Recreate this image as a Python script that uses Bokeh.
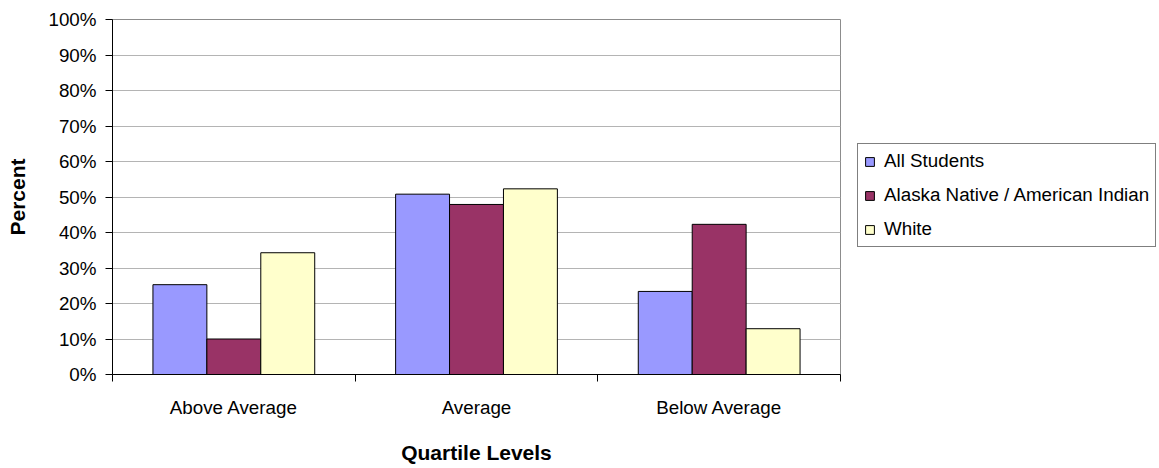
from bokeh.plotting import figure
from bokeh.layouts import row
from bokeh.models import (ColumnDataSource, Range1d, FixedTicker, NumeralTickFormatter,
                          Legend, LegendItem)
from bokeh.transform import dodge
from bokeh.embed import file_html
from bokeh.resources import INLINE

categories = ["Above Average", "Average", "Below Average"]
series_names = ["All Students", "Alaska Native / American Indian", "White"]
all_students = [0.253, 0.508, 0.234]
alaska_native = [0.100, 0.479, 0.423]
white = [0.343, 0.523, 0.129]
y_ticks = [0.0, 0.1, 0.2, 0.3, 0.4, 0.5, 0.6, 0.7, 0.8, 0.9, 1.0]

colors = ["#9999FF", "#993366", "#FFFFCC"]
FONT = "Liberation Sans"
LBL = "18.8px"
TTL = "21px"
H = 468
W1 = 841
W2 = 1159 - W1

centers = [i + 0.5 for i in range(len(categories))]
src = ColumnDataSource(dict(x=centers, cat=categories,
                            s0=all_students, s1=alaska_native, s2=white))

p = figure(width=W1, height=H, output_backend="svg", toolbar_location=None,
           x_range=Range1d(0, len(categories)), y_range=Range1d(0, 1),
           min_border_left=112, min_border_right=1, min_border_top=19,
           min_border_bottom=H - 19 - 355)
p.background_fill_color = "white"
p.border_fill_color = "white"
p.outline_line_color = "#8c8c8c"
p.outline_line_width = 1

bar_w = 1.0 / 4.5
offsets = [-bar_w, 0.0, bar_w]
keys = ["s0", "s1", "s2"]
for k, key in enumerate(keys):
    p.vbar(x=dodge("x", offsets[k], range=p.x_range), top=key, width=bar_w,
           source=src, fill_color=colors[k], line_color="black", line_width=1)

# x axis: labels at category centers, ticks at category boundaries
xa = p.xaxis[0]
xa.ticker = FixedTicker(ticks=centers, minor_ticks=list(range(len(categories) + 1)))
xa.major_label_overrides = {c: lab for c, lab in zip(centers, categories)}
xa.major_tick_out = 0
xa.major_tick_in = 0
xa.minor_tick_out = 7
xa.minor_tick_in = 0
xa.minor_tick_line_color = "black"
xa.axis_line_color = "black"
xa.major_label_standoff = 15
xa.major_label_text_font = FONT
xa.major_label_text_font_size = LBL
xa.major_label_text_color = "black"
xa.axis_label = "Quartile Levels"
xa.axis_label_text_font = FONT
xa.axis_label_text_font_style = "bold"
xa.axis_label_text_font_size = TTL
xa.axis_label_text_color = "black"
xa.axis_label_standoff = 20

ya = p.yaxis[0]
ya.ticker = FixedTicker(ticks=y_ticks)
ya.formatter = NumeralTickFormatter(format="0%")
ya.major_tick_out = 7
ya.major_tick_in = 0
ya.minor_tick_line_color = None
ya.axis_line_color = "black"
ya.major_tick_line_color = "black"
ya.major_label_standoff = 9
ya.major_label_text_font = FONT
ya.major_label_text_font_size = LBL
ya.major_label_text_color = "black"
ya.axis_label = "Percent"
ya.axis_label_text_font = FONT
ya.axis_label_text_font_style = "bold"
ya.axis_label_text_font_size = TTL
ya.axis_label_text_color = "black"
ya.axis_label_standoff = 16

p.xgrid.grid_line_color = None
p.ygrid.ticker = FixedTicker(ticks=y_ticks)
p.ygrid.grid_line_color = "#b4b4b4"
p.ygrid.grid_line_width = 1

# legend panel: same series, glyphs kept outside its visible range
q = figure(width=W2, height=H, output_backend="svg", toolbar_location=None,
           x_axis_type=None, y_axis_type=None, x_range=Range1d(-20, -19),
           y_range=Range1d(0, 1), min_border=0)
q.outline_line_color = None
q.grid.visible = False
q.background_fill_color = "white"
q.border_fill_color = "white"
leg_r = []
for k, key in enumerate(keys):
    r = q.vbar(x=dodge("x", offsets[k], range=q.x_range), top=key, width=bar_w,
               source=src, fill_color=colors[k], line_color="black", line_width=1)
    leg_r.append(r)

legend = Legend(items=[LegendItem(label=n, renderers=[r]) for n, r in zip(series_names, leg_r)],
                location=(16, 127))
legend.border_line_color = "black"
legend.border_line_width = 1
legend.background_fill_color = "white"
legend.background_fill_alpha = 1
legend.label_text_font = FONT
legend.label_text_font_size = LBL
legend.label_text_color = "black"
legend.glyph_width = 11
legend.glyph_height = 11
legend.label_standoff = 9
legend.label_height = 22
legend.spacing = 12
legend.padding = 6
legend.margin = 0
q.add_layout(legend, "center")

layout = row(p, q, spacing=0)
open("out.html", "w").write(file_html(layout, INLINE))
